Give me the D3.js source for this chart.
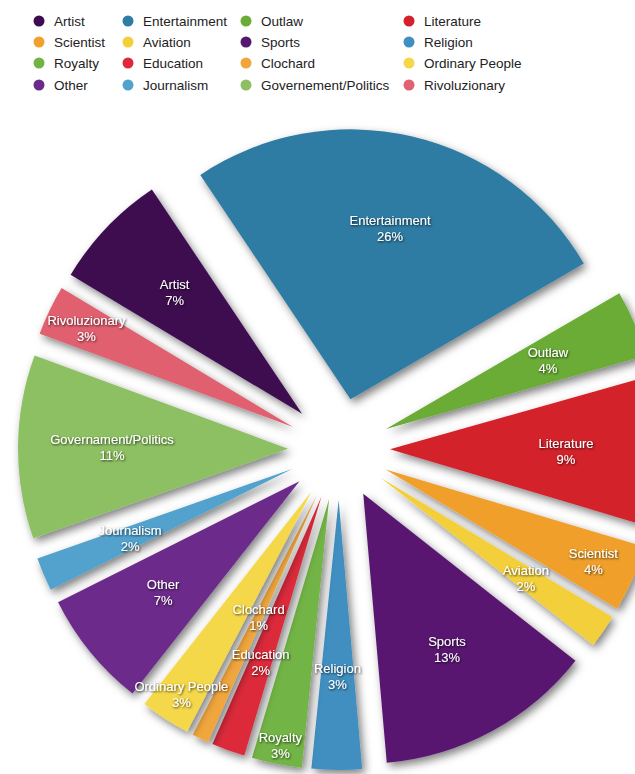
<!DOCTYPE html>
<html>
<head>
<meta charset="utf-8">
<script src="https://cdn.jsdelivr.net/npm/d3@7"></script>
<style>
  body { margin: 0; background: #fff; }
  svg { display: block; font-family: "Liberation Sans", Arial, Helvetica, sans-serif; }
</style>
</head>
<body>
<div id="chart"></div>
<script>
// categories in pie order (clockwise), legend is the same order row by row
const categories = ["Artist", "Entertainment", "Outlaw", "Literature",
  "Scientist", "Aviation", "Sports", "Religion",
  "Royalty", "Education", "Clochard", "Ordinary People",
  "Other", "Journalism", "Governement/Politics", "Rivoluzionary"];
const percents = [7, 26, 4, 9, 4, 2, 13, 3, 3, 2, 1, 3, 7, 2, 11, 3];

// slice colours
const palette = ["#3d0c50", "#2f7ba3", "#6aac35", "#d3202c",
  "#f0a02c", "#f3d03a", "#58176f", "#3f8fc0",
  "#72b444", "#dc2a3b", "#f1a63c", "#f5d84a",
  "#6c2a8a", "#52a2cd", "#8dc062", "#e0616f"];

// label names drawn inside slices differ slightly from the legend
const sliceLabel = { "Governement/Politics": "Governament/Politics" };

const svgWidth = 635;
const svgHeight = 774;
const cx = 339, cy = 449;
const radius = 270;
const explode = 51;
const labelR = 176;
// some thin slices push their label further out (or in)
const labelROverride = {
  "Rivoluzionary": 229, "Ordinary People": 240, "Clochard": 135,
  "Royalty": 251, "Scientist": 227
};

const svg = d3.select("#chart")
  .append("svg")
  .attr("width", svgWidth)
  .attr("height", svgHeight);

const defs = svg.append("defs");
defs.append("filter")
  .attr("id", "sliceShadow")
  .attr("x", "-20%").attr("y", "-20%")
  .attr("width", "140%").attr("height", "140%")
  .append("feDropShadow")
  .attr("dx", 3).attr("dy", 4)
  .attr("stdDeviation", 4)
  .attr("flood-color", "#000")
  .attr("flood-opacity", 0.5);

defs.append("filter")
  .attr("id", "textShadow")
  .append("feDropShadow")
  .attr("dx", 0.8).attr("dy", 1)
  .attr("stdDeviation", 0.8)
  .attr("flood-color", "#000")
  .attr("flood-opacity", 0.8);

const data = categories.map((c, i) => ({ name: c, value: percents[i], color: palette[i] }));

const startA = -59 * Math.PI / 180;
const pie = d3.pie()
  .sort(null)
  .value(d => d.value)
  .startAngle(startA)
  .endAngle(startA + 2 * Math.PI);

const arc = d3.arc()
  .innerRadius(0)
  .outerRadius(radius);

const arcs = pie(data);

// offset of a slice (exploded outward along its bisector)
function shift(d, r) {
  const mid = (d.startAngle + d.endAngle) / 2;
  return [r * Math.sin(mid), -r * Math.cos(mid)];
}

const pieGroup = svg.append("g")
  .attr("transform", `translate(${cx}, ${cy})`);

pieGroup.selectAll("path")
  .data(arcs)
  .enter()
  .append("path")
  .attr("transform", d => `translate(${shift(d, explode)})`)
  .attr("d", arc)
  .attr("fill", d => d.data.color)
  .attr("filter", "url(#sliceShadow)");

// labels on top of every slice
const labels = pieGroup.append("g")
  .selectAll("text")
  .data(arcs)
  .enter()
  .append("text")
  .attr("text-anchor", "middle")
  .attr("fill", "#fff")
  .attr("font-size", "13px")
  .attr("filter", "url(#textShadow)")
  .attr("transform", d => {
    const r = explode + (labelROverride[d.data.name] || labelR);
    return `translate(${shift(d, r)})`;
  });

labels.append("tspan")
  .attr("x", 0)
  .attr("y", -3)
  .text(d => sliceLabel[d.data.name] || d.data.name);

labels.append("tspan")
  .attr("x", 0)
  .attr("y", 13)
  .text(d => d.data.value + "%");

// legend, 4 columns
const legendX = [39, 128, 246, 409];
const legendY = [21, 42, 63, 85];

const legend = svg.append("g")
  .selectAll("g")
  .data(data)
  .enter()
  .append("g")
  .attr("transform", (d, i) => `translate(${legendX[i % 4]}, ${legendY[Math.floor(i / 4)]})`);

legend.append("circle")
  .attr("r", 5.5)
  .attr("fill", d => d.color);

legend.append("text")
  .attr("x", 15)
  .attr("dy", "0.35em")
  .attr("font-size", "13.5px")
  .attr("fill", "#222")
  .text(d => d.name);
</script>
</body>
</html>
